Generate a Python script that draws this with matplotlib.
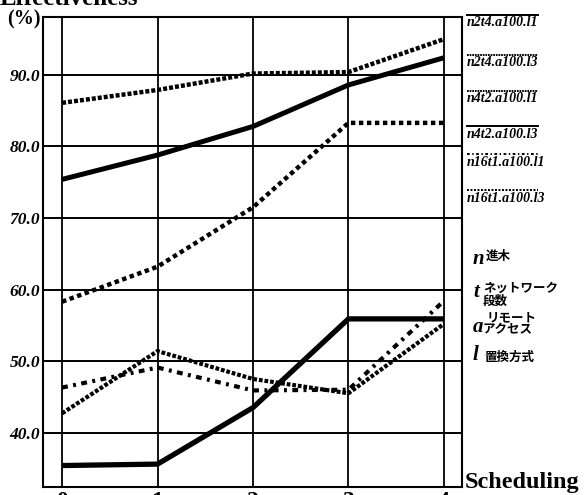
import matplotlib
matplotlib.use("Agg")
import matplotlib.pyplot as plt
from matplotlib.lines import Line2D

# scheduling step vs effectiveness (%)
steps = [0, 1, 2, 3, 4]
series_names = ["n2t4.a100.l1", "n2t4.a100.l3", "n4t2.a100.l1",
                "n4t2.a100.l3", "n16t1.a100.l1", "n16t1.a100.l3"]
n2t4_l1 = [75.4, 78.8, 82.8, 88.6, 92.4]
n2t4_l3 = [86.1, 87.9, 90.2, 90.4, 95.0]
n4t2_l1 = [42.7, 51.4, 47.5, 45.5, 55.2]
n4t2_l3 = [35.4, 35.6, 43.5, 55.9, 55.9]
n16t1_l1 = [46.3, 49.1, 45.9, 46.0, 58.4]
n16t1_l3 = [58.3, 63.2, 71.5, 83.3, 83.3]
yticks = [40, 50, 60, 70, 80, 90]

key_letters = ["n", "t", "a", "l"]

W, H = 584, 495
fig = plt.figure(figsize=(W / 100, H / 100), dpi=100)
ax = fig.add_axes([43 / W, 1 - 487 / H, (462 - 43) / W, (487 - 17) / H])

styles = [
    dict(linestyle="-", lw=3.6),
    dict(linestyle=(0, (0.9, 0.45)), lw=3.2),
    dict(linestyle=(0, (0.9, 0.45)), lw=3.0),
    dict(linestyle="-", lw=3.8),
    dict(linestyle=(0, (1.4, 1.3, 0.7, 1.3)), lw=3.0),
    dict(linestyle=(0, (1.0, 0.8)), lw=3.2),
]
data = [n2t4_l1, n2t4_l3, n4t2_l1, n4t2_l3, n16t1_l1, n16t1_l3]

for vals, st in zip(data, styles):
    ax.plot(steps, vals, color="black", solid_capstyle="butt",
            dash_capstyle="butt", zorder=3, **st)

ax.set_xlim(-0.2, 4.19)
ax.set_ylim(32.4, 98.1)
for x in steps:
    ax.axvline(x, color="black", lw=1.3, zorder=1)
for y in yticks:
    ax.axhline(y, color="black", lw=1.4, zorder=1)
for sp in ax.spines.values():
    sp.set_linewidth(1.5)

serif_bi = dict(family="Liberation Serif", weight="bold", style="italic")
ax.set_yticks(yticks)
ax.set_yticklabels([f"{v:.1f}" for v in yticks], fontsize=12.5, **serif_bi)
ax.set_xticks(steps)
ax.set_xticklabels([str(s) for s in steps], fontsize=17,
                   family="Liberation Serif", weight="bold")
ax.tick_params(axis="y", length=0, pad=2)
ax.tick_params(axis="x", length=0, pad=3)

fig.text(0.0, 1 - 5 / H, "Effectiveness", fontsize=18, family="Liberation Serif",
         weight="bold", va="baseline", ha="left")
fig.text(7 / W, 1 - 24 / H, "(%)", fontsize=14.5, family="Liberation Serif",
         weight="bold", va="baseline", ha="left")
fig.text(465 / W, 1 - 488 / H, "Scheduling", fontsize=17.5,
         family="Liberation Serif", weight="bold", va="baseline", ha="left")

# legend: line sample above each label
label_y = [23, 63, 99, 134, 162, 198]
for name, st, ly in zip(series_names, styles, label_y):
    fig.text(467 / W, 1 - ly / H, name, fontsize=10, va="center", ha="left",
             **serif_bi)
    sy = 1 - (ly - 8) / H
    fig.add_artist(Line2D([467 / W, 538 / W], [sy, sy], color="black",
                          linestyle=st["linestyle"], lw=1.4,
                          transform=fig.transFigure))

# notation key
jp = dict(family=["Noto Sans CJK JP", "DejaVu Sans"], weight="bold", fontsize=9)
key_y = [259, 292, 327, 355]
for letter, ky in zip(key_letters, key_y):
    fig.text(473 / W, 1 - ky / H, letter, fontsize=15, va="center", ha="left",
             **serif_bi)
fig.text(486 / W, 1 - 256 / H, "進木", va="center", ha="left", **jp)
fig.text(483 / W, 1 - 288 / H, "ネットワーク", va="center", ha="left", **jp)
fig.text(483 / W, 1 - 301 / H, "段数", va="center", ha="left", **jp)
fig.text(487 / W, 1 - 318 / H, "リモート", va="center", ha="left", **jp)
fig.text(483 / W, 1 - 330 / H, "アクセス", va="center", ha="left", **jp)
fig.text(484 / W, 1 - 357 / H, "置換方式", va="center", ha="left", **jp)

fig.savefig("out.png", dpi=100)
